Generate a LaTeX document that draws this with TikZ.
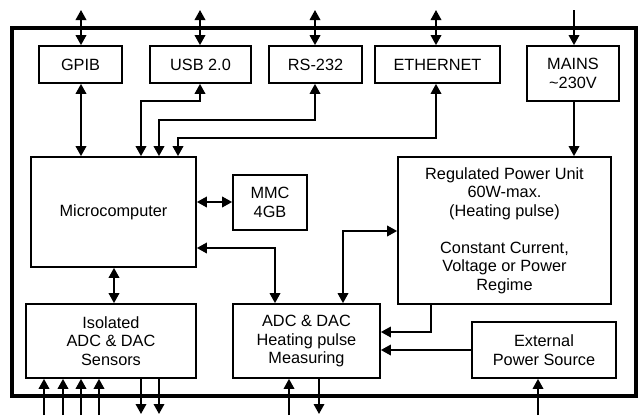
\documentclass[tikz,border=0pt]{standalone}
\usepackage{fontspec}
\setmainfont{Liberation Sans}
\usetikzlibrary{arrows.meta}
\begin{document}
\begin{tikzpicture}[x=1pt,y=-1pt,
  box/.style={draw,line width=1.7pt,inner sep=0pt,align=center,font=\fontsize{16.3}{18.5}\selectfont},
  conn/.style={line width=1.8pt,{Triangle[length=10pt,width=10.5pt]}-{Triangle[length=10pt,width=10.5pt]}},
  one/.style={line width=1.8pt,-{Triangle[length=10pt,width=10.5pt]}}]
\useasboundingbox (0,0) rectangle (639,415);
\node[draw,line width=3.4pt,minimum width=624pt,minimum height=368pt,inner sep=0pt] (frame) at (324,212) {};
% boxes
\node[box,minimum width=83pt,minimum height=37pt] (gpib) at (80.5,64.5) {GPIB};
\node[box,minimum width=101pt,minimum height=37pt] (usb) at (200.5,64.5) {USB 2.0};
\node[box,minimum width=93pt,minimum height=37pt] (rs) at (315.5,64.5) {RS-232};
\node[box,minimum width=125pt,minimum height=37pt] (eth) at (437.5,64.5) {ETHERNET};
\node[box,minimum width=92pt,minimum height=55pt] (mains) at (573,73.5) {MAINS\\\textasciitilde230V};
\node[box,minimum width=165pt,minimum height=110pt] (micro) at (113.5,212) {Microcomputer};
\node[box,minimum width=74pt,minimum height=55pt] (mmc) at (270,202.5) {MMC\\4GB};
\node[box,minimum width=213pt,minimum height=147pt] (reg) at (504.5,230.5) {Regulated Power Unit\\60W-max.\\(Heating pulse)\\[18.5pt]Constant Current,\\Voltage or Power\\Regime};
\node[box,minimum width=170pt,minimum height=74pt] (iso) at (111,341) {Isolated\\ADC \& DAC\\Sensors};
\node[box,minimum width=147pt,minimum height=74pt] (adc) at (306.5,341) {ADC \& DAC\\Heating pulse\\Measuring};
\node[box,minimum width=144pt,minimum height=56pt] (ext) at (544,350) {External\\Power Source};
% external coordinates
\coordinate (t1) at (81,10);
\coordinate (t2) at (200,10);
\coordinate (t3) at (315,10);
\coordinate (t4) at (436,10);
\coordinate (t5) at (574,10);
% top connectors
\draw[conn] (t1) -- (t1 |- gpib.north);
\draw[conn] (t2) -- (t2 |- usb.north);
\draw[conn] (t3) -- (t3 |- rs.north);
\draw[conn] (t4) -- (t4 |- eth.north);
\draw[one] (t5) -- (t5 |- mains.north);
\draw[one] (t5 |- mains.south) -- (t5 |- reg.north);
% to microcomputer
\draw[conn] (t1 |- gpib.south) -- (t1 |- micro.north);
\draw[conn] (t2 |- usb.south) -- (200,101) -- (141,101) -- (141,0 |- micro.north);
\draw[conn] (t3 |- rs.south) -- (315,120) -- (159,120) -- (159,0 |- micro.north);
\draw[conn] (t4 |- eth.south) -- (436,138) -- (178,138) -- (178,0 |- micro.north);
\draw[conn] (micro.east |- 0,202) -- (mmc.west |- 0,202);
\draw[conn] (micro.east |- 0,248) -- (275,248) -- (275,0 |- adc.north);
\draw[conn] (114,0 |- micro.south) -- (114,0 |- iso.north);
% power unit
\draw[conn] (343,0 |- adc.north) -- (343,231) -- (reg.west |- 0,231);
\draw[one] (431,0 |- reg.south) -- (431,332) -- (adc.east |- 0,332);
\draw[one] (ext.west |- 0,350) -- (adc.east |- 0,350);
% bottom
\foreach \x/\n in {44/b1,63/b2,81/b3,99/b4}{
  \coordinate (\n) at (\x,415);
  \draw[one] (\n) -- (\n |- iso.south);
}
\coordinate (d1) at (141,414);
\coordinate (d2) at (159,414);
\draw[one] (d1 |- iso.south) -- (d1);
\draw[one] (d2 |- iso.south) -- (d2);
\coordinate (b5) at (289,415);
\coordinate (d3) at (319,414);
\draw[one] (b5) -- (b5 |- adc.south);
\draw[one] (d3 |- adc.south) -- (d3);
\coordinate (b6) at (538,415);
\draw[one] (b6) -- (b6 |- ext.south);
\end{tikzpicture}
\end{document}
